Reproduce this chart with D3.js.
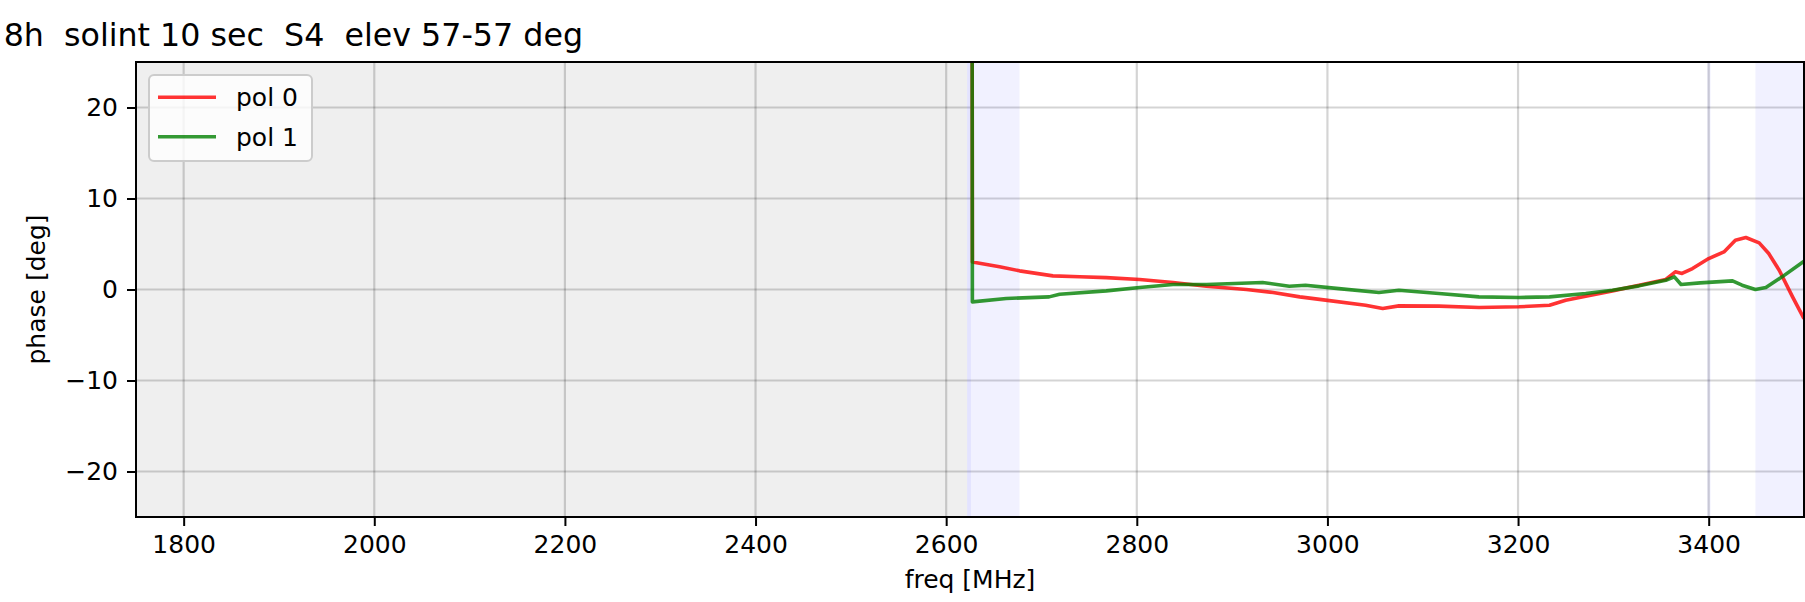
<!DOCTYPE html>
<html>
<head>
<meta charset="utf-8">
<script src="https://cdn.jsdelivr.net/npm/d3@7"></script>
<style>
  html, body { margin: 0; padding: 0; background: #fff; }
  svg { display: block; font-family: "DejaVu Sans", sans-serif; }
  text { white-space: pre; }
</style>
</head>
<body>
<svg id="chart" width="1805" height="602"></svg>
<script>
// ---- data ----
const titleText = "8h  solint 10 sec  S4  elev 57-57 deg";
const xLabel = "freq [MHz]";
const yLabel = "phase [deg]";
const xDomain = [1750, 3500];
const yDomain = [-25, 25];
const xTicks = [1800, 2000, 2200, 2400, 2600, 2800, 3000, 3200, 3400];
const yTicks = [-20, -10, 0, 10, 20];
const seriesNames = ["pol 0", "pol 1"];

// flagged / shaded frequency ranges
const greySpans = [[1750, 2622]];
const blueSpans = [[2622, 2677], [2622, 2626], [3398.5, 3402], [3449, 3500]];

const pol0Freq = [2627, 2627.5, 2656, 2677, 2712, 2740, 2768, 2803, 2838, 2873, 2915, 2943, 2971, 2998, 3040, 3058, 3075, 3117, 3159, 3201, 3233, 3250, 3271, 3299, 3327, 3355, 3365, 3372, 3383, 3400, 3416, 3428, 3439, 3453, 3463, 3474, 3488, 3500];
const pol0Phase = [60, 3.03, 2.5, 2.05, 1.5, 1.4, 1.3, 1.1, 0.77, 0.36, 0.0, -0.33, -0.81, -1.17, -1.73, -2.09, -1.8, -1.83, -1.98, -1.9, -1.73, -1.18, -0.74, -0.15, 0.47, 1.1, 1.94, 1.76, 2.3, 3.4, 4.13, 5.42, 5.71, 5.12, 3.95, 2.12, -0.81, -3.2];

const pol1Freq = [2627, 2627.5, 2663, 2708, 2719, 2768, 2803, 2838, 2873, 2932, 2960, 2977, 3012, 3054, 3075, 3117, 3159, 3201, 3233, 3271, 3299, 3327, 3355, 3364, 3371, 3391, 3425, 3435, 3449, 3460, 3477, 3500];
const pol1Phase = [60, -1.36, -0.99, -0.81, -0.52, -0.15, 0.22, 0.55, 0.55, 0.77, 0.36, 0.47, 0.1, -0.33, -0.08, -0.44, -0.81, -0.88, -0.81, -0.44, -0.08, 0.4, 1.02, 1.39, 0.55, 0.73, 0.95, 0.47, 0.0, 0.22, 1.39, 3.1];

// ---- layout ----
const svg = d3.select("#chart");
const plot = { left: 136, right: 1804, top: 62, bottom: 517 };

const x = d3.scaleLinear().domain(xDomain).range([plot.left, plot.right]);
const y = d3.scaleLinear().domain(yDomain).range([plot.bottom, plot.top]);

svg.append("defs").append("clipPath").attr("id", "clip")
  .append("rect")
  .attr("x", plot.left).attr("y", plot.top)
  .attr("width", plot.right - plot.left).attr("height", plot.bottom - plot.top);

const g = svg.append("g").attr("clip-path", "url(#clip)");

// spans
g.selectAll("rect.grey").data(greySpans).join("rect")
  .attr("class", "grey")
  .attr("x", d => x(d[0])).attr("width", d => x(d[1]) - x(d[0]))
  .attr("y", plot.top).attr("height", plot.bottom - plot.top)
  .attr("fill", "#efefef");

// grid
g.selectAll("line.gx").data(xTicks).join("line")
  .attr("class", "gx")
  .attr("x1", d => x(d)).attr("x2", d => x(d))
  .attr("y1", plot.top).attr("y2", plot.bottom)
  .attr("stroke", "#000").attr("stroke-opacity", 0.17).attr("stroke-width", 2.2);
g.selectAll("line.gy").data(yTicks).join("line")
  .attr("class", "gy")
  .attr("y1", d => y(d)).attr("y2", d => y(d))
  .attr("x1", plot.left).attr("x2", plot.right)
  .attr("stroke", "#000").attr("stroke-opacity", 0.17).attr("stroke-width", 2.2);

g.selectAll("rect.blue").data(blueSpans).join("rect")
  .attr("class", "blue")
  .attr("x", d => x(d[0])).attr("width", d => x(d[1]) - x(d[0]))
  .attr("y", plot.top).attr("height", plot.bottom - plot.top)
  .attr("fill", "#0000ff").attr("fill-opacity", 0.055);

// lines
const line = d3.line().x(d => x(d[0])).y(d => y(d[1]));
const pol0 = pol0Freq.map((f, i) => [f, pol0Phase[i]]);
const pol1 = pol1Freq.map((f, i) => [f, pol1Phase[i]]);
const colors = ["rgb(255,0,0)", "rgb(0,128,0)"];

g.append("path").datum(pol0).attr("d", line)
  .attr("fill", "none").attr("stroke", colors[0]).attr("stroke-opacity", 0.8)
  .attr("stroke-width", 3.6).attr("stroke-linejoin", "round");
g.append("path").datum(pol1).attr("d", line)
  .attr("fill", "none").attr("stroke", colors[1]).attr("stroke-opacity", 0.8)
  .attr("stroke-width", 3.6).attr("stroke-linejoin", "round");

// axes
const xAxis = d3.axisBottom(x).tickValues(xTicks).tickSize(9).tickPadding(9).tickFormat(d3.format("d"));
const yAxis = d3.axisLeft(y).tickValues(yTicks).tickSize(9).tickPadding(9).tickFormat(d3.format("d"));

const gx = svg.append("g").attr("transform", `translate(0,${plot.bottom})`).call(xAxis);
const gy = svg.append("g").attr("transform", `translate(${plot.left},0)`).call(yAxis);
[gx, gy].forEach(a => {
  a.select(".domain").remove();
  a.selectAll(".tick line").attr("stroke", "#000").attr("stroke-width", 2);
  a.selectAll(".tick text").attr("fill", "#000").attr("font-size", 25)
    .attr("font-family", "DejaVu Sans");
});

// frame
svg.append("rect")
  .attr("x", plot.left).attr("y", plot.top)
  .attr("width", plot.right - plot.left).attr("height", plot.bottom - plot.top)
  .attr("fill", "none").attr("stroke", "#000").attr("stroke-width", 2);

// labels
svg.append("text").attr("x", 970).attr("y", 588).attr("text-anchor", "middle")
  .attr("font-size", 25).text(xLabel);
svg.append("text").attr("transform", `translate(45,${(plot.top + plot.bottom) / 2}) rotate(-90)`)
  .attr("text-anchor", "middle").attr("font-size", 25).text(yLabel);
svg.append("text").attr("x", 583).attr("y", 46).attr("text-anchor", "end")
  .attr("font-size", 31.7).attr("xml:space", "preserve").text(titleText);

// legend
const lg = svg.append("g");
lg.append("rect").attr("x", 149).attr("y", 75).attr("width", 163).attr("height", 86)
  .attr("rx", 5).attr("fill", "#fff").attr("fill-opacity", 0.8)
  .attr("stroke", "#cccccc").attr("stroke-width", 2);
seriesNames.forEach((name, i) => {
  const yy = 97.3 + i * 39.4;
  lg.append("line").attr("x1", 158).attr("x2", 216).attr("y1", yy).attr("y2", yy)
    .attr("stroke", colors[i]).attr("stroke-opacity", 0.8).attr("stroke-width", 3.6);
  lg.append("text").attr("x", 236).attr("y", yy + 9).attr("font-size", 25).text(name);
});
</script>
</body>
</html>
